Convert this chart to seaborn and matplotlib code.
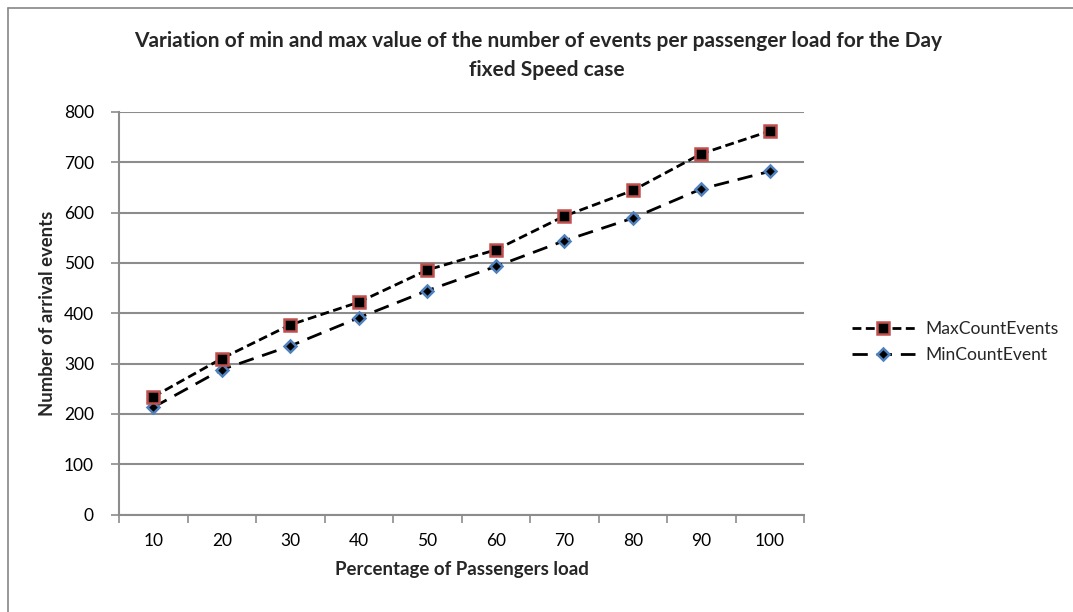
import matplotlib
matplotlib.use("Agg")
import matplotlib.pyplot as plt
import seaborn as sns
import pandas as pd
from matplotlib.lines import Line2D

# Passenger load levels (percent) and event counts
loads = ["10", "20", "30", "40", "50", "60", "70", "80", "90", "100"]
max_events = [234, 310, 377, 422, 486, 526, 593, 644, 717, 762]
min_events = [213, 288, 335, 391, 445, 493, 544, 589, 647, 682]

sns.set_theme(style="white")
plt.rcParams["font.family"] = ["Lato", "DejaVu Sans"]

W, H = 1073, 612
fig = plt.figure(figsize=(W / 100, H / 100), dpi=100)
ax = fig.add_axes([119 / W, 1 - 514.5 / H, (804 - 119) / W, (514.5 - 112) / H])

df = pd.DataFrame({
    "load": loads * 2,
    "events": max_events + min_events,
    "series": ["MaxCountEvents"] * len(loads) + ["MinCountEvent"] * len(loads),
})
df["pos"] = df["load"].map({l: i for i, l in enumerate(loads)})

grid_col = "#8c8c8c"
max_dash = [3.2, 1.6]
min_dash = [5.5, 3.2]

sns.lineplot(data=df[df.series == "MaxCountEvents"], x="pos", y="events", ax=ax,
             color="black", lw=2, dashes=False, marker="s", markersize=8,
             markerfacecolor="black", markeredgecolor="#C0504D", markeredgewidth=1.8,
             zorder=4, legend=False)
sns.lineplot(data=df[df.series == "MinCountEvent"], x="pos", y="events", ax=ax,
             color="black", lw=2, dashes=False, marker="D", markersize=6.5,
             markerfacecolor="black", markeredgecolor="#4F81BD", markeredgewidth=1.8,
             zorder=3, legend=False)
lines = ax.get_lines()
lines[0].set_dashes(max_dash)
lines[1].set_dashes(min_dash)

ax.set_xlim(-0.5, len(loads) - 0.5)
ax.set_ylim(0, 800)
ax.set_yticks(range(0, 801, 100))
ax.yaxis.grid(True, color=grid_col, lw=1.5)
ax.set_axisbelow(True)

ax.set_xticks(range(len(loads)))
ax.set_xticklabels(loads)
ax.set_xticks([i - 0.5 for i in range(len(loads) + 1)], minor=True)
ax.tick_params(axis="x", which="major", length=0, pad=13, labelsize=12.5, colors="black")
ax.tick_params(axis="x", which="minor", bottom=True, length=6, width=1.2, color=grid_col)
ax.tick_params(axis="y", left=True, length=6, width=1.2, color=grid_col, pad=12,
               labelsize=12.5, labelcolor="black")

for side in ("top", "right"):
    ax.spines[side].set_visible(False)
for side in ("left", "bottom"):
    ax.spines[side].set_color(grid_col)
    ax.spines[side].set_linewidth(1.5)

ax.set_xlabel("Percentage of Passengers load", fontsize=13.4, fontweight="bold", labelpad=9)
ax.set_ylabel("Number of arrival events", fontsize=13.3, fontweight="bold", labelpad=6)

fig.text(538 / W, 1 - 41 / H,
         "Variation of min and max value of the number of events per passenger load for the Day",
         ha="center", va="center", fontsize=15, fontweight="bold")
fig.text(547 / W, 1 - 70 / H, "fixed Speed case",
         ha="center", va="center", fontsize=15, fontweight="bold")

handles = [
    Line2D([], [], color="black", lw=2, dashes=max_dash, marker="s", markersize=8,
           markerfacecolor="black", markeredgecolor="#C0504D", markeredgewidth=1.8),
    Line2D([], [], color="black", lw=2, dashes=min_dash, marker="D", markersize=6.5,
           markerfacecolor="black", markeredgecolor="#4F81BD", markeredgewidth=1.8),
]
fig.legend(handles, ["MaxCountEvents", "MinCountEvent"], loc="center left",
           bbox_to_anchor=(836 / W, 1 - 342 / H), frameon=False, fontsize=12.6,
           handlelength=3.6, handletextpad=0.6, labelspacing=0.6)

# Outer chart frame (left and top edges)
fig.add_artist(Line2D([7.5 / W, 7.5 / W], [0, 1 - 7.5 / H], transform=fig.transFigure,
                      color="#868686", lw=1.2))
fig.add_artist(Line2D([7.5 / W, 1], [1 - 7.5 / H, 1 - 7.5 / H], transform=fig.transFigure,
                      color="#868686", lw=1.2))

fig.savefig("out.png", dpi=100, facecolor="white")
